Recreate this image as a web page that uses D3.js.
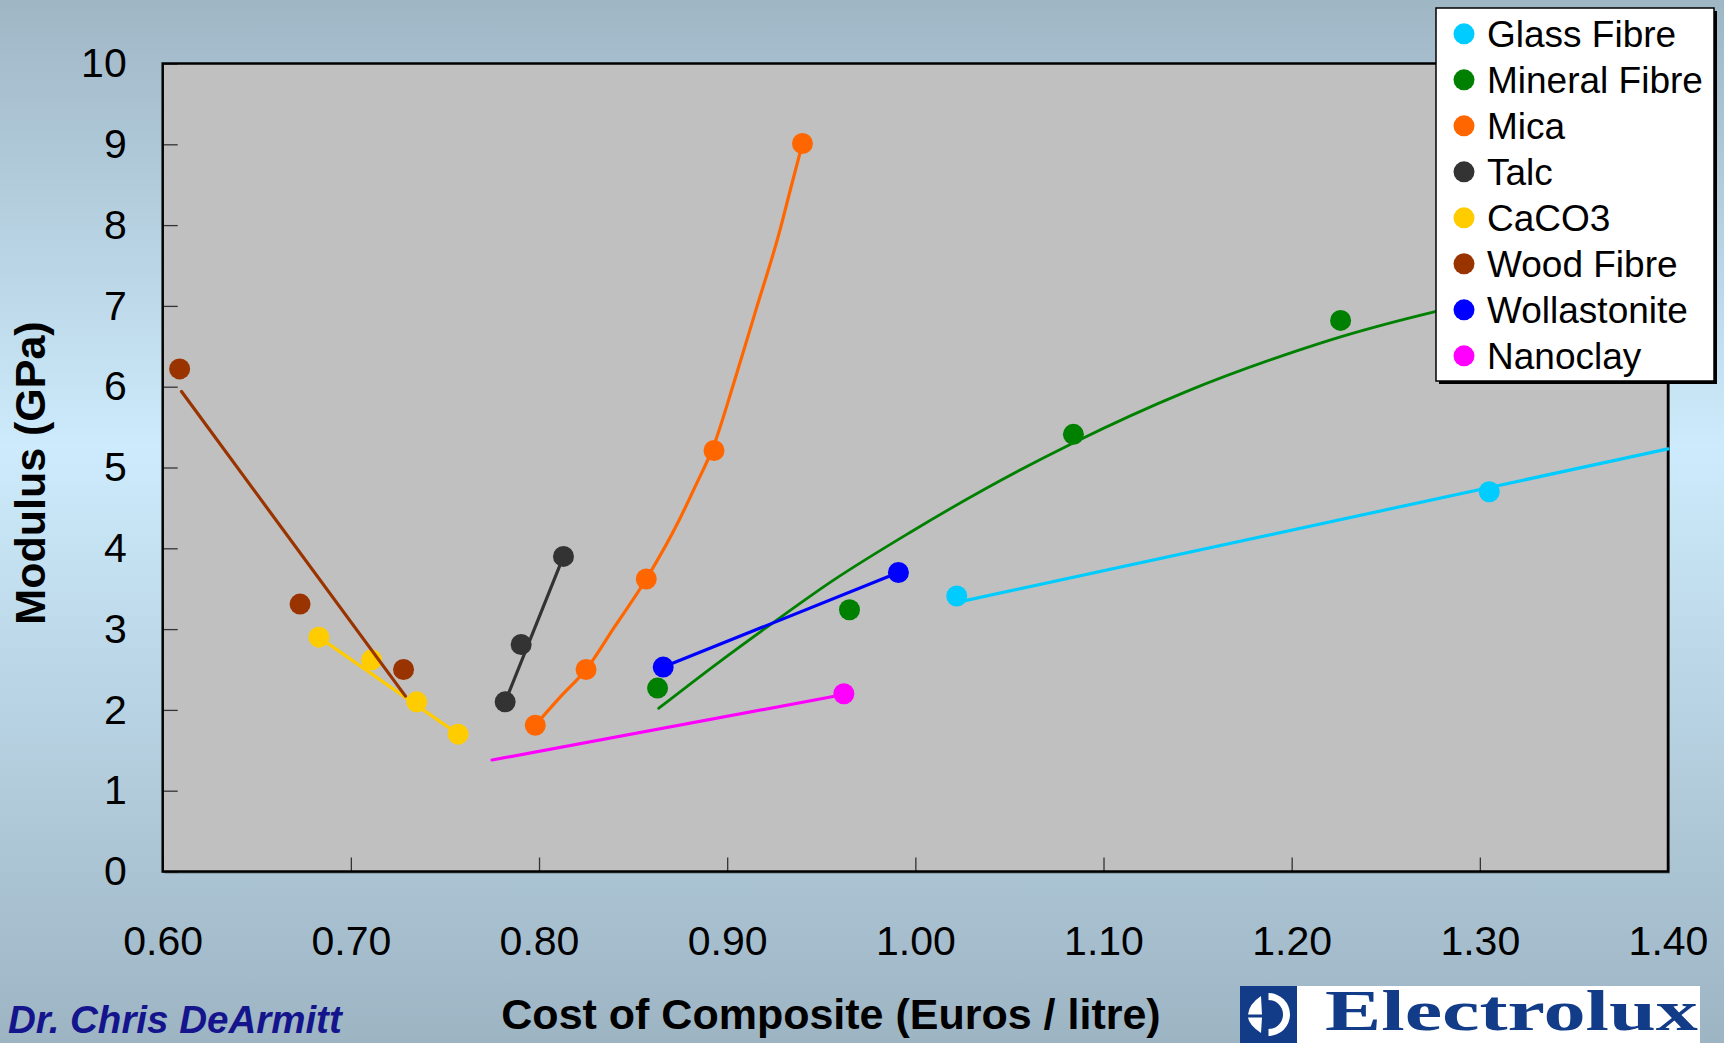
<!DOCTYPE html>
<html>
<head>
<meta charset="utf-8">
<script src="https://cdn.jsdelivr.net/npm/d3@7"></script>
<style>
  html, body { margin: 0; padding: 0; overflow: hidden; }
  svg { display: block; }
  text { font-family: "Liberation Sans", Arial, sans-serif; }
</style>
</head>
<body>
<svg id="chart" width="1724" height="1043"></svg>
<script>
// ---- data: cost (Euros / litre) vs modulus (GPa) for filled composites ----
const seriesNames  = ["Glass Fibre", "Mineral Fibre", "Mica", "Talc", "CaCO3", "Wood Fibre", "Wollastonite", "Nanoclay"];
const seriesColors = ["#00CCFF", "#008000", "#FF6600", "#333333", "#FFCC00", "#993300", "#0000FF", "#FF00FF"];

const glassCost = [1.022, 1.305];
const glassMod  = [3.41, 4.70];
const glassTrend = [[1.024, 3.34], [1.40, 5.23]];

const mineralCost = [0.863, 0.965, 1.084, 1.226];
const mineralMod  = [2.27, 3.24, 5.41, 6.82];
const mineralTrend = [[0.8636, 2.02], [0.895, 2.58], [0.9256, 3.10], [0.9561, 3.60], [0.9967, 4.19],
                      [1.0375, 4.74], [1.0844, 5.31], [1.143, 5.93], [1.2023, 6.44],
                      [1.2264, 6.62], [1.2763, 6.93], [1.33, 7.20]];

const micaCost = [0.798, 0.825, 0.857, 0.893, 0.940];
const micaMod  = [1.81, 2.50, 3.62, 5.21, 9.01];
const micaTrend = [[0.798, 1.81], [0.8117, 2.17], [0.825, 2.50], [0.8402, 3.03], [0.857, 3.62],
                   [0.8747, 4.36], [0.8829, 4.76], [0.893, 5.28], [0.9032, 6.02], [0.9154, 6.96],
                   [0.9276, 7.90], [0.9337, 8.45], [0.940, 9.01]];

const talcCost = [0.782, 0.7905, 0.813];
const talcMod  = [2.10, 2.81, 3.90];
const talcTrend = [[0.782, 2.10], [0.813, 3.90]];

const caco3Cost = [0.683, 0.711, 0.735, 0.757];
const caco3Mod  = [2.90, 2.62, 2.10, 1.70];
const caco3Trend = [[0.683, 2.90], [0.757, 1.70]];

const woodCost = [0.609, 0.673, 0.728];
const woodMod  = [6.22, 3.31, 2.50];
const woodTrend = [[0.610, 5.94], [0.729, 2.17]];

const wollCost = [0.866, 0.991];
const wollMod  = [2.53, 3.70];
const wollTrend = [[0.866, 2.53], [0.991, 3.70]];

const nanoCost = [0.962];
const nanoMod  = [2.20];
const nanoTrend = [[0.775, 1.38], [0.962, 2.19]];

const xTicks = [0.60, 0.70, 0.80, 0.90, 1.00, 1.10, 1.20, 1.30, 1.40];
const yTicks = [0, 1, 2, 3, 4, 5, 6, 7, 8, 9, 10];

const series = [
  { cost: glassCost,   mod: glassMod,   trend: glassTrend,   smooth: false },
  { cost: mineralCost, mod: mineralMod, trend: mineralTrend, smooth: true  },
  { cost: micaCost,    mod: micaMod,    trend: micaTrend,    smooth: true  },
  { cost: talcCost,    mod: talcMod,    trend: talcTrend,    smooth: false },
  { cost: caco3Cost,   mod: caco3Mod,   trend: caco3Trend,   smooth: false },
  { cost: woodCost,    mod: woodMod,    trend: woodTrend,    smooth: false },
  { cost: wollCost,    mod: wollMod,    trend: wollTrend,    smooth: false },
  { cost: nanoCost,    mod: nanoMod,    trend: nanoTrend,    smooth: false }
].map((s, i) => ({ ...s, name: seriesNames[i], color: seriesColors[i] }));

// ---- layout ----
const W = 1724, H = 1043;
const plot = { left: 162.7, right: 1668, top: 63.5, bottom: 871.5 };

const svg = d3.select("#chart");
const defs = svg.append("defs");

const bg = defs.append("linearGradient").attr("id", "bgGrad")
  .attr("x1", 0).attr("y1", 0).attr("x2", 0).attr("y2", 1);
bg.append("stop").attr("offset", "0%").attr("stop-color", "#9FB6C5");
bg.append("stop").attr("offset", "43%").attr("stop-color", "#CDEBFC");
bg.append("stop").attr("offset", "100%").attr("stop-color", "#9DB4C3");

svg.append("rect").attr("width", W).attr("height", H).attr("fill", "url(#bgGrad)");

const x = d3.scaleLinear().domain([0.6, 1.4]).range([plot.left, plot.right]);
const y = d3.scaleLinear().domain([0, 10]).range([plot.bottom, plot.top]);

// plot area with a slight drop shadow
svg.append("rect")
  .attr("x", plot.left + 2).attr("y", plot.top + 2)
  .attr("width", plot.right - plot.left).attr("height", plot.bottom - plot.top)
  .attr("fill", "#6d7a82");
svg.append("rect")
  .attr("x", plot.left).attr("y", plot.top)
  .attr("width", plot.right - plot.left).attr("height", plot.bottom - plot.top)
  .attr("fill", "#C0C0C0");

// axes: ticks point into the plot area
const yAxis = d3.axisLeft(y).tickValues(yTicks).tickFormat(d3.format("d"))
  .tickSizeInner(-15).tickSizeOuter(0).tickPadding(36);
const xAxis = d3.axisBottom(x).tickValues(xTicks).tickFormat(d3.format(".2f"))
  .tickSizeInner(-14).tickSizeOuter(0).tickPadding(54);

const gy = svg.append("g").attr("transform", `translate(${plot.left},0)`).call(yAxis);
const gx = svg.append("g").attr("transform", `translate(0,${plot.bottom})`).call(xAxis);
[gx, gy].forEach(g => {
  g.select(".domain").remove();
  g.selectAll(".tick line").attr("stroke", "#333").attr("stroke-width", 1.3);
  g.selectAll(".tick text").attr("fill", "#000")
    .style("font-family", "'Liberation Sans', Arial, sans-serif").style("font-size", "41px");
});

// frame
svg.append("rect")
  .attr("x", plot.left).attr("y", plot.top)
  .attr("width", plot.right - plot.left).attr("height", plot.bottom - plot.top)
  .attr("fill", "none").attr("stroke", "#000").attr("stroke-width", 2.5);

// markers
const marks = svg.append("g");
series.forEach(s => {
  marks.selectAll(null)
    .data(s.cost.map((c, i) => [c, s.mod[i]]))
    .join("circle")
    .attr("cx", d => x(d[0])).attr("cy", d => y(d[1]))
    .attr("r", 10.5).attr("fill", s.color);
});

// trend lines
const straight = d3.line().x(d => x(d[0])).y(d => y(d[1]));
const curved = d3.line().x(d => x(d[0])).y(d => y(d[1])).curve(d3.curveMonotoneX);
const lines = svg.append("g");
series.forEach(s => {
  lines.append("path")
    .attr("d", (s.smooth ? curved : straight)(s.trend))
    .attr("fill", "none").attr("stroke", s.color)
    .attr("stroke-width", s.name === "Mineral Fibre" ? 2.8 : 3.2)
    .attr("stroke-linecap", "round").attr("stroke-linejoin", "round");
});

// legend
const lg = svg.append("g");
const lgBox = { x: 1436, y: 8, w: 278, h: 373 };
lg.append("rect").attr("x", lgBox.x + 3).attr("y", lgBox.y + 3)
  .attr("width", lgBox.w).attr("height", lgBox.h).attr("fill", "#000");
lg.append("rect").attr("x", lgBox.x).attr("y", lgBox.y)
  .attr("width", lgBox.w).attr("height", lgBox.h)
  .attr("fill", "#fff").attr("stroke", "#000").attr("stroke-width", 1.5);
const items = lg.selectAll("g.item").data(series).join("g")
  .attr("class", "item")
  .attr("transform", (d, i) => `translate(${lgBox.x}, ${33.8 + i * 46})`);
items.append("circle").attr("cx", 28).attr("cy", 0).attr("r", 10.5).attr("fill", d => d.color);
items.append("text").attr("x", 51).attr("y", 0).attr("dy", "0.35em")
  .style("font-size", "37px").attr("fill", "#000").text(d => d.name);

// axis titles
svg.append("text")
  .attr("transform", "translate(45,473) rotate(-90)")
  .attr("text-anchor", "middle")
  .style("font-size", "43px").style("font-weight", "bold")
  .text("Modulus (GPa)");

svg.append("text")
  .attr("x", 831).attr("y", 1029)
  .attr("text-anchor", "middle")
  .style("font-size", "43px").style("font-weight", "bold")
  .text("Cost of Composite (Euros / litre)");

// author credit
svg.append("text")
  .attr("x", 8).attr("y", 1033)
  .style("font-size", "38.5px").style("font-weight", "bold").style("font-style", "italic")
  .attr("fill", "#14148C")
  .text("Dr. Chris DeArmitt");

// Electrolux logo
const logo = svg.append("g");
const navy = "#123C88";
logo.append("rect").attr("x", 1240).attr("y", 986).attr("width", 460).attr("height", 57).attr("fill", "#fff");
logo.append("rect").attr("x", 1240).attr("y", 986).attr("width", 57).attr("height", 57).attr("fill", navy);
// stylised emblem
logo.append("path")
  .attr("d", "M1268.5,993 A21.5,21.5 0 1 1 1268.5,1036 L1268.5,1029 A14.5,14.5 0 1 0 1268.5,1000 Z")
  .attr("fill", "#fff");
logo.append("path")
  .attr("d", "M1261,996 Q1249,1004 1248,1014.5 L1262,1014.5 Z M1261,1033 Q1249,1025 1248,1017.5 L1262,1017.5 Z")
  .attr("fill", "#fff");
logo.append("text")
  .attr("x", 1325).attr("y", 1030)
  .attr("textLength", 373).attr("lengthAdjust", "spacingAndGlyphs")
  .style("font-family", "'Liberation Serif', 'DejaVu Serif', serif")
  .style("font-size", "56px").style("font-weight", "bold")
  .attr("fill", navy)
  .text("Electrolux");
</script>
</body>
</html>
